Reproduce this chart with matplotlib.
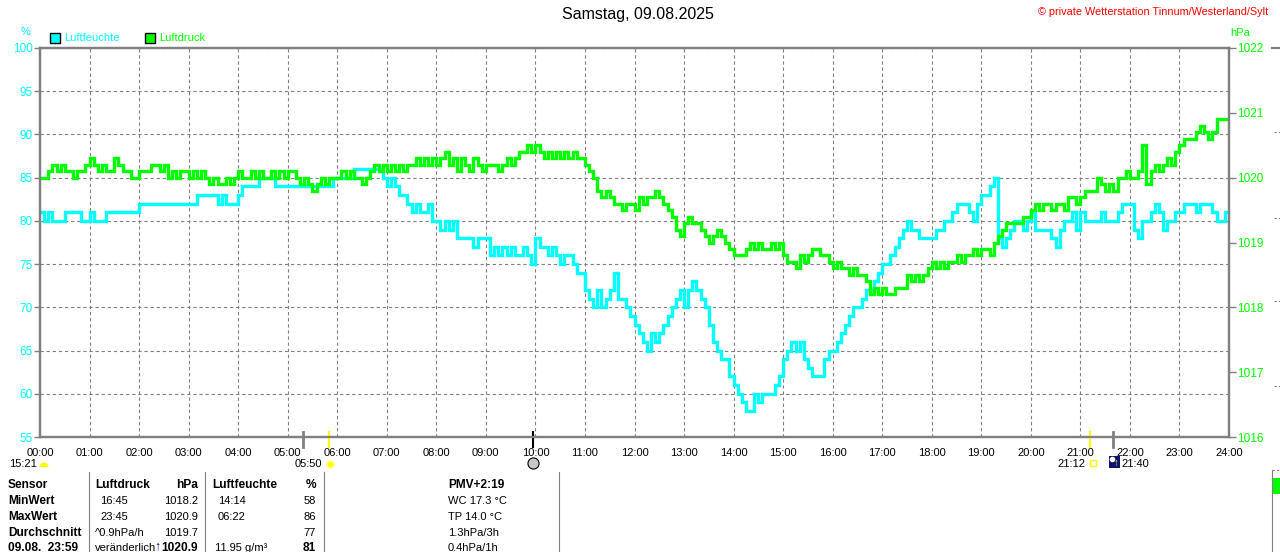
import numpy as np
import matplotlib.pyplot as plt
from matplotlib.patches import Rectangle, Wedge

plt.rcParams['font.family'] = ['Liberation Sans', 'DejaVu Sans']

# ====== DATA (5-minute samples, 00:00 .. 24:00) ======
hum_5min = [
    81, 80, 81, 80, 80, 80, 81, 81, 81, 81, 80, 80,   # 00
    81, 80, 80, 80, 81, 81, 81, 81, 81, 81, 81, 81,   # 01
    82, 82, 82, 82, 82, 82, 82, 82, 82, 82, 82, 82,   # 02
    82, 82, 83, 83, 83, 83, 83, 82, 83, 82, 82, 82,   # 03
    83, 84, 84, 84, 84, 85, 85, 85, 85, 84, 84, 84,   # 04
    84, 84, 84, 84, 84, 84, 84, 84, 84, 84, 84, 85,   # 05
    85, 85, 85, 85, 86, 86, 86, 86, 86, 86, 86, 85,   # 06
    84, 85, 84, 83, 83, 82, 81, 82, 81, 81, 82, 80,   # 07
    80, 79, 80, 79, 80, 78, 78, 78, 78, 77, 78, 78,   # 08
    78, 76, 77, 76, 77, 76, 77, 76, 76, 77, 76, 75,   # 09
    78, 77, 77, 76, 77, 76, 75, 76, 76, 75, 74, 74,   # 10
    72, 71, 70, 72, 70, 71, 72, 74, 71, 71, 70, 69,   # 11
    68, 67, 66, 65, 67, 66, 67, 68, 69, 70, 71, 72,   # 12
    70, 72, 73, 72, 71, 70, 68, 66, 65, 64, 64, 62,   # 13
    61, 60, 59, 58, 58, 60, 59, 60, 60, 60, 61, 62,   # 14
    64, 65, 66, 65, 66, 64, 63, 62, 62, 62, 64, 65,   # 15
    65, 66, 67, 68, 69, 70, 70, 71, 72, 72, 73, 74,   # 16
    75, 75, 76, 77, 78, 79, 80, 79, 79, 78, 78, 78,   # 17
    78, 79, 79, 80, 80, 81, 82, 82, 82, 81, 80, 82,   # 18
    83, 83, 84, 85, 78, 77, 78, 79, 80, 80, 79, 80,   # 19
    81, 79, 79, 79, 79, 78, 77, 79, 80, 80, 81, 79,   # 20
    81, 80, 80, 80, 80, 81, 80, 80, 80, 81, 82, 82,   # 21
    82, 79, 78, 80, 80, 81, 82, 81, 79, 80, 80, 81,   # 22
    81, 82, 82, 82, 81, 82, 82, 82, 81, 80, 80, 81,   # 23
    81,
]

press_5min = [
    1020.0, 1020.0, 1020.1, 1020.2, 1020.1, 1020.2, 1020.1, 1020.1, 1020.0, 1020.1, 1020.1, 1020.2,  # 00
    1020.3, 1020.2, 1020.1, 1020.2, 1020.1, 1020.1, 1020.3, 1020.2, 1020.1, 1020.1, 1020.0, 1020.0,  # 01
    1020.1, 1020.1, 1020.1, 1020.2, 1020.2, 1020.1, 1020.2, 1020.0, 1020.1, 1020.0, 1020.1, 1020.1,  # 02
    1020.0, 1020.1, 1020.0, 1020.1, 1020.0, 1019.9, 1020.0, 1019.9, 1019.9, 1020.0, 1019.9, 1020.0,  # 03
    1020.1, 1020.0, 1020.0, 1020.1, 1020.0, 1020.1, 1020.0, 1020.0, 1020.1, 1020.0, 1020.1, 1020.0,  # 04
    1020.1, 1020.1, 1020.0, 1019.9, 1020.0, 1019.9, 1019.8, 1019.9, 1020.0, 1019.9, 1020.0, 1020.0,  # 05
    1020.0, 1020.1, 1020.0, 1020.1, 1020.0, 1020.0, 1019.9, 1020.0, 1020.1, 1020.2, 1020.1, 1020.2,  # 06
    1020.1, 1020.2, 1020.1, 1020.2, 1020.1, 1020.2, 1020.2, 1020.3, 1020.2, 1020.3, 1020.2, 1020.3,  # 07
    1020.2, 1020.3, 1020.4, 1020.2, 1020.3, 1020.1, 1020.3, 1020.2, 1020.1, 1020.3, 1020.2, 1020.1,  # 08
    1020.2, 1020.2, 1020.2, 1020.1, 1020.2, 1020.3, 1020.2, 1020.3, 1020.4, 1020.4, 1020.5, 1020.4,  # 09
    1020.5, 1020.4, 1020.3, 1020.4, 1020.3, 1020.4, 1020.3, 1020.4, 1020.3, 1020.4, 1020.3, 1020.3,  # 10
    1020.2, 1020.1, 1020.0, 1019.8, 1019.7, 1019.8, 1019.7, 1019.6, 1019.6, 1019.5, 1019.6, 1019.6,  # 11
    1019.5, 1019.7, 1019.6, 1019.7, 1019.7, 1019.8, 1019.7, 1019.6, 1019.5, 1019.4, 1019.2, 1019.1,  # 12
    1019.3, 1019.4, 1019.3, 1019.3, 1019.2, 1019.1, 1019.0, 1019.1, 1019.2, 1019.1, 1019.0, 1018.9,  # 13
    1018.8, 1018.8, 1018.8, 1018.9, 1019.0, 1018.9, 1019.0, 1018.9, 1018.9, 1019.0, 1018.9, 1019.0,  # 14
    1018.8, 1018.7, 1018.7, 1018.6, 1018.8, 1018.7, 1018.8, 1018.9, 1018.9, 1018.8, 1018.8, 1018.7,  # 15
    1018.6, 1018.7, 1018.6, 1018.6, 1018.5, 1018.6, 1018.5, 1018.5, 1018.4, 1018.2, 1018.3, 1018.2,  # 16
    1018.3, 1018.2, 1018.2, 1018.3, 1018.3, 1018.3, 1018.5, 1018.4, 1018.5, 1018.4, 1018.5, 1018.6,  # 17
    1018.7, 1018.6, 1018.7, 1018.6, 1018.7, 1018.7, 1018.8, 1018.7, 1018.8, 1018.8, 1018.9, 1018.8,  # 18
    1018.9, 1018.9, 1018.8, 1019.0, 1019.1, 1019.2, 1019.3, 1019.3, 1019.3, 1019.3, 1019.4, 1019.4,  # 19
    1019.5, 1019.6, 1019.5, 1019.6, 1019.6, 1019.5, 1019.6, 1019.6, 1019.5, 1019.7, 1019.7, 1019.6,  # 20
    1019.7, 1019.8, 1019.8, 1019.8, 1020.0, 1019.9, 1019.8, 1019.9, 1019.8, 1020.0, 1020.0, 1020.1,  # 21
    1020.0, 1020.0, 1020.1, 1020.5, 1019.9, 1020.1, 1020.2, 1020.1, 1020.2, 1020.3, 1020.2, 1020.4,  # 22
    1020.5, 1020.6, 1020.6, 1020.6, 1020.7, 1020.8, 1020.7, 1020.6, 1020.7, 1020.9, 1020.9, 1020.9,  # 23
    1020.9,
]

hour_labels = [f"{h:02d}:00" for h in range(25)]
hum_ticks = [55, 60, 65, 70, 75, 80, 85, 90, 95, 100]
press_ticks = [1016, 1017, 1018, 1019, 1020, 1021, 1022]

# sun / moon events on the time axis (hours)
event_times = [5.31, 5.833, 9.95, 21.2, 21.667]
event_colors = ["#808080", "#FFFF00", "#000000", "#FFFF00", "#808080"]

row_names = ["Sensor", "MinWert", "MaxWert", "Durchschnitt", "09.08.  23:59"]
druck_time = ["Luftdruck", "16:45", "23:45", "^0.9hPa/h", "veränderlich"]
druck_val = ["hPa", "1018.2", "1020.9", "1019.7", "1020.9"]
feuchte_time = ["Luftfeuchte", "14:14", "06:22", "", "11.95 g/m³"]
feuchte_val = ["%", "58", "86", "77", "81"]
extra_col = ["PMV+2:19", "WC 17.3 °C", "TP 14.0 °C", "1.3hPa/3h", "0.4hPa/1h"]

CYAN = "#00FFFF"
GREEN = "#00FF00"
GRAY = "#808080"
NAVY = "#101070"

# ====== FIGURE ======
W, H = 1280, 552
fig = plt.figure(figsize=(W / 100, H / 100), dpi=100)
ax = fig.add_axes([40 / W, 1 - 437 / H, (1229 - 40) / W, (437 - 48) / H])
ax2 = ax.twinx()

t = np.arange(len(hum_5min)) * 5 / 60.0
ax.plot(t, hum_5min, color=CYAN, lw=2.4, drawstyle="steps-post", solid_joinstyle="miter")
ax2.plot(t, press_5min, color=GREEN, lw=2.4, drawstyle="steps-post", solid_joinstyle="miter")

ax.set_xlim(0, 24)
ax.set_ylim(55, 100)
ax2.set_ylim(1016, 1022)

ax.set_xticks(range(25))
ax.set_xticklabels(hour_labels, fontsize=8)
ax.tick_params(axis="x", length=0, pad=8)
ax.set_yticks(hum_ticks)
ax.set_yticklabels([str(v) for v in hum_ticks], fontsize=8.5, color=CYAN)
ax.tick_params(axis="y", length=4, width=1, color=GRAY, pad=1)
ax2.set_yticks(press_ticks)
ax2.set_yticklabels([str(v) for v in press_ticks], fontsize=8.5, color=GREEN)
ax2.tick_params(axis="y", length=5, width=1, color=GRAY, pad=1)

ax.grid(True, color=GRAY, lw=0.8, linestyle=(0, (3, 2.5)))
for a in (ax, ax2):
    for s in a.spines.values():
        s.set_color(GRAY)
        s.set_linewidth(1.6)

for tt, cc in zip(event_times, event_colors):
    ax.axvline(tt, ymin=-0.026, ymax=0.012, color=cc,
               lw=2 if cc == GRAY else 1.5, clip_on=False, zorder=5)

# ====== overlay for texts / decorations (pixel coordinates) ======
ov = fig.add_axes([0, 0, 1, 1], zorder=10)
ov.set_xlim(0, W)
ov.set_ylim(H, 0)
ov.axis("off")
ov.patch.set_visible(False)

ov.text(638, 15, "Samstag, 09.08.2025", fontsize=11.5, ha="center", va="center")
ov.text(1268, 12, "© private Wetterstation Tinnum/Westerland/Sylt", fontsize=7.8,
        color="#FF0000", ha="right", va="center")
ov.text(26, 32, "%", fontsize=8, color=CYAN, ha="center", va="center")
ov.text(1240, 33, "hPa", fontsize=8, color=GREEN, ha="center", va="center")

ov.add_patch(Rectangle((50, 33), 10, 10, facecolor=CYAN, edgecolor="black", lw=1))
ov.text(64, 38, "Luftfeuchte", fontsize=8, color=CYAN, va="center")
ov.add_patch(Rectangle((145, 33), 10, 10, facecolor=GREEN, edgecolor="black", lw=1))
ov.text(159, 38, "Luftdruck", fontsize=8, color=GREEN, va="center")

# sun / moon labels under the axis
ov.text(37, 464, "15:21", fontsize=8, ha="right", va="center")
ov.add_patch(Wedge((44, 467), 4.5, 180, 360, facecolor="#FFFF00", edgecolor="none"))
ov.text(322, 464, "05:50", fontsize=8, ha="right", va="center")
ov.plot([330], [464], marker="o", ms=5, color="#FFFF00", mec="#FFFF80")
ov.plot([533], [463], marker="o", ms=8, color="#C8C8C8", mec="black", mew=0.8)
ov.text(1085, 464, "21:12", fontsize=8, ha="right", va="center")
ov.add_patch(Rectangle((1090, 460), 6, 6, facecolor="none", edgecolor="#FFFF00", lw=1))
ov.add_patch(Rectangle((1109, 456), 11, 12, facecolor=NAVY, edgecolor="none"))
ov.plot([1112], [459], marker="o", ms=3, color="white")
ov.text(1116, 463, "↑", fontsize=7, color="#FFFF00", ha="center", va="center")
ov.text(1121, 464, "21:40", fontsize=8, va="center")

# ====== table under the chart ======
row_y = [485, 501, 517, 533, 548]
for i, y in enumerate(row_y):
    head = (i == 0)
    bold_val = head or i == 4
    ov.text(8, y, row_names[i], fontsize=8.6, fontweight="bold", va="center")
    ov.text(95 if (head or i >= 3) else 100, y, druck_time[i], va="center",
            fontsize=8.6 if head else 8, fontweight="bold" if head else "normal")
    ov.text(212 if head else (215 if i == 4 else 218), y, feuchte_time[i], va="center",
            fontsize=8.6 if head else 8, fontweight="bold" if head else "normal")
    ov.text(198, y, druck_val[i], ha="right", va="center",
            fontsize=8.6 if bold_val else 8, fontweight="bold" if bold_val else "normal")
    ov.text(316, y, feuchte_val[i], ha="right", va="center",
            fontsize=8.6 if bold_val else 8, fontweight="bold" if bold_val else "normal")
    ov.text(448, y, extra_col[i], va="center",
            fontsize=8.6 if head else 8, fontweight="bold" if head else "normal")
ov.text(157, 546, "↑", fontsize=9, color=NAVY, fontweight="bold", ha="center", va="center")

for xs in (89, 205, 324, 559):
    ov.plot([xs, xs], [472, 552], color=GRAY, lw=0.8)

# cut-off neighbour chart at the right edge
ov.plot([1272, 1280], [48, 48], color=GRAY, lw=1.6)
for yy in (132, 218, 301, 386):
    ov.plot([1274, 1280], [yy, yy], color=GRAY, lw=0.8, linestyle=(0, (2, 2)))
ov.plot([1272, 1272], [470, 552], color=GRAY, lw=0.8)
ov.plot([1272, 1280], [470, 470], color=GRAY, lw=0.8, linestyle=(0, (2, 2)))
ov.add_patch(Rectangle((1272, 478), 8, 16, facecolor=GREEN, edgecolor="none"))

fig.savefig("out.png", dpi=100)
